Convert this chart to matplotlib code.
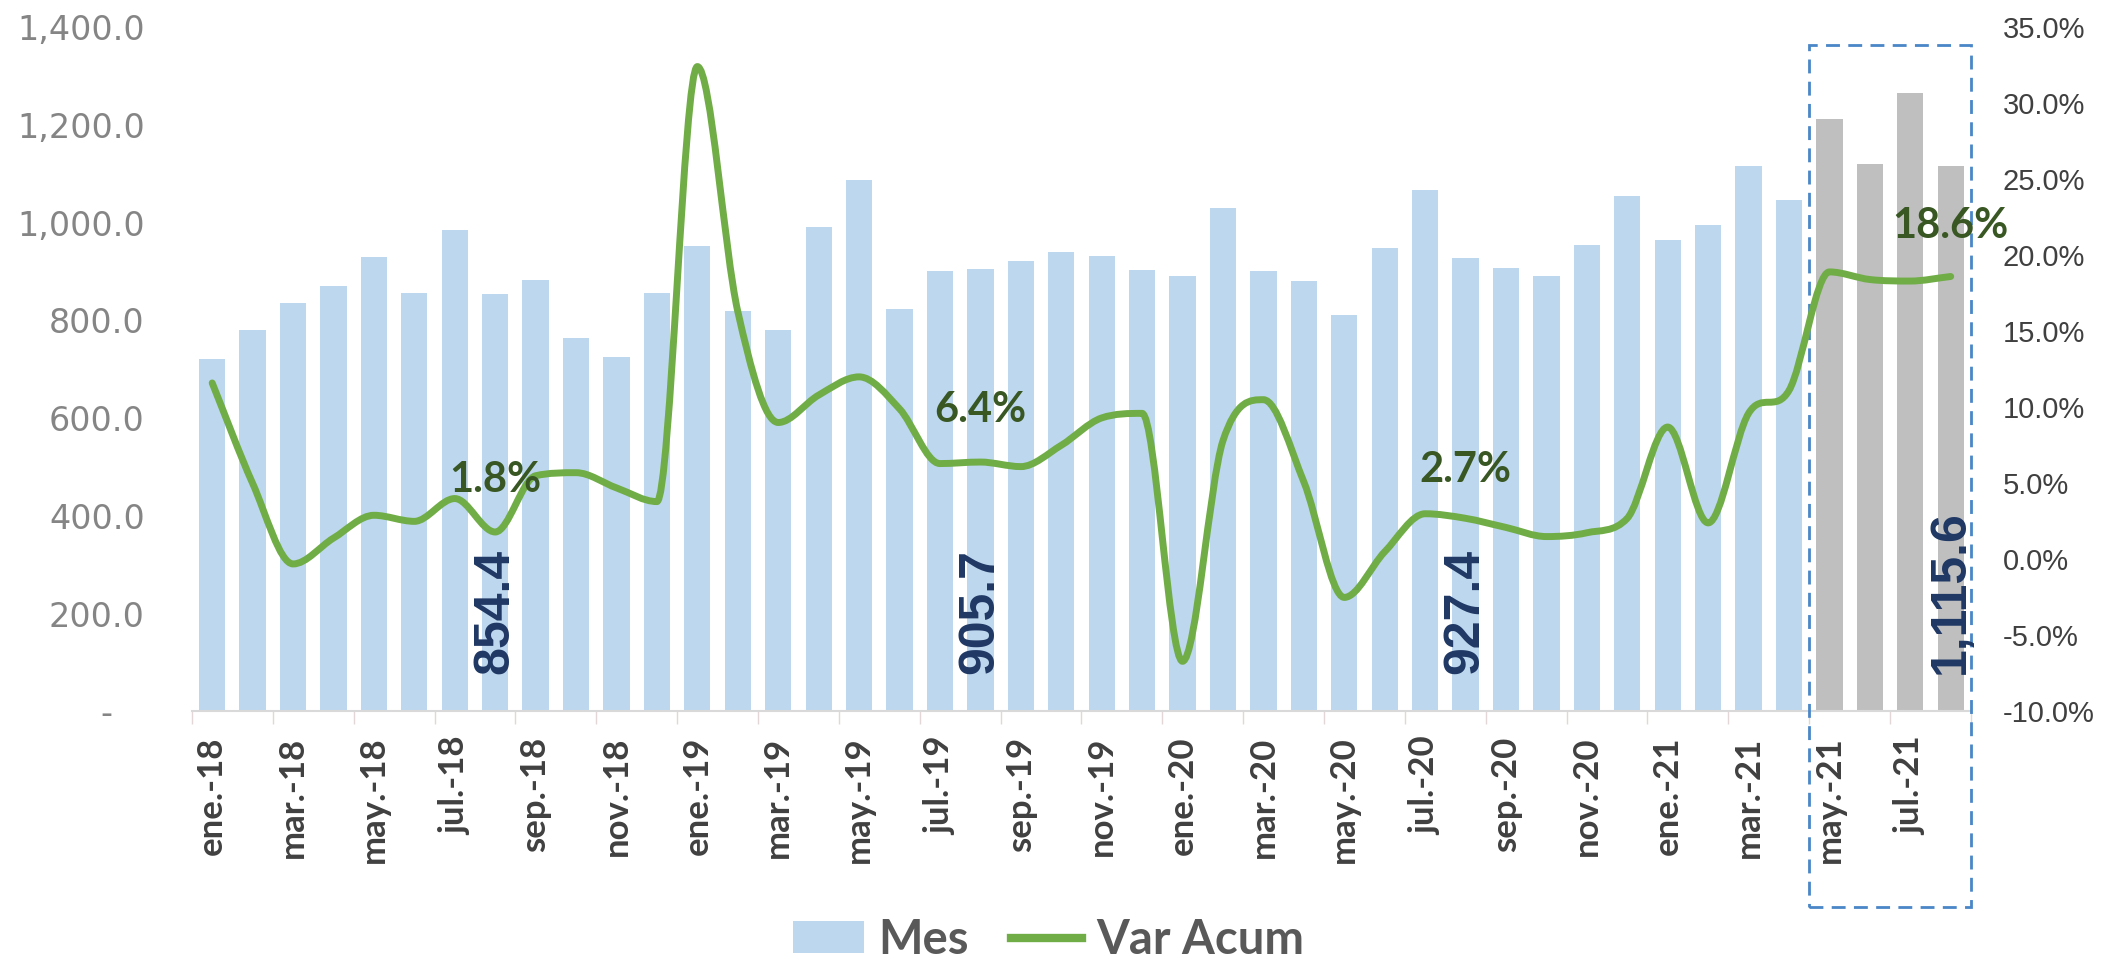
import matplotlib.pyplot as plt
from matplotlib.path import Path
from matplotlib.patches import PathPatch, Rectangle, Patch
from matplotlib.lines import Line2D
from matplotlib.ticker import FuncFormatter

meses = ['ene.', 'feb.', 'mar.', 'abr.', 'may.', 'jun.',
         'jul.', 'ago.', 'sep.', 'oct.', 'nov.', 'dic.']
anios = ['18', '19', '20', '21']
periodos = [f'{m}-{a}' for a in anios for m in meses][:44]

# Mes (bars, left axis)
mes = [721, 780, 836, 870, 930, 855, 985, 854.4, 883, 764, 726, 855,
       953, 819, 780, 992, 1088, 823, 902, 905.7, 921, 939, 932, 904,
       890, 1030, 900, 881, 810, 948, 1066, 927.4, 908, 890, 955, 1054,
       964, 995, 1116, 1046, 1211, 1120, 1266, 1115.6]

# Var Acum (line, right axis, %)
var_acum = [11.6, 5.0, -0.3, 1.4, 2.9, 2.5, 4.0, 1.8, 5.5, 5.7, 4.7, 3.8,
            32.4, 16.3, 9.0, 10.8, 12.0, 9.9, 6.3, 6.4, 6.1, 7.5, 9.3, 9.6,
            -6.7, 7.8, 10.5, 5.1, -2.5, 0.5, 3.0, 2.7, 2.1, 1.5, 1.75, 2.7,
            8.7, 2.4, 9.6, 11.1, 18.9, 18.4, 18.3, 18.6]

n_gris = 4  # last months highlighted in gray
etiquetas_mes = [7, 19, 31, 43]
etiquetas_var = [7, 19, 31, 43]

azul = '#bdd7ee'
gris = '#bfbfbf'
verde = '#70ad47'

fig = plt.figure(figsize=(21.05, 9.59), dpi=100)
ax = fig.add_axes([0.0912, 0.2581, 0.8451, 0.7137])
ax2 = ax.twinx()

x = list(range(len(mes)))
colores = [azul] * (len(mes) - n_gris) + [gris] * n_gris
ax.bar(x, mes, width=0.65, color=colores, zorder=2)

ax.set_xlim(-0.5, len(mes) - 0.5)
ax.set_ylim(0, 1400)
ax2.set_ylim(-10, 35)

# smoothed line through the points (no overshoot at local extremes)
y = var_acum
n = len(y)
d = [y[i + 1] - y[i] for i in range(n - 1)]
m = []
for i in range(n):
    if i == 0:
        t = d[0]
    elif i == n - 1:
        t = d[-1]
    elif d[i - 1] * d[i] <= 0:
        t = 0.0
    else:
        t = (d[i - 1] + d[i]) / 2
        lim = 3 * min(abs(d[i - 1]), abs(d[i]))
        t = max(-lim, min(lim, t))
    m.append(t)
verts = [(x[0], y[0])]
codes = [Path.MOVETO]
for i in range(n - 1):
    verts += [(x[i] + 1 / 3, y[i] + m[i] / 3),
              (x[i + 1] - 1 / 3, y[i + 1] - m[i + 1] / 3),
              (x[i + 1], y[i + 1])]
    codes += [Path.CURVE4] * 3
ax2.add_patch(PathPatch(Path(verts, codes), fill=False, edgecolor=verde,
                        lw=5, capstyle='round', joinstyle='round', zorder=3))

# spines and ticks
for s in ['top', 'left', 'right']:
    ax.spines[s].set_visible(False)
    ax2.spines[s].set_visible(False)
ax.spines['bottom'].set_color('#d9d9d9')
ax.spines['bottom'].set_linewidth(1.5)
ax2.spines['bottom'].set_visible(False)

ax.set_yticks(range(0, 1401, 200))
ax.yaxis.set_major_formatter(FuncFormatter(
    lambda v, p: '-   ' if v == 0 else f'{v:,.1f}'))
ax.tick_params(axis='y', length=0, pad=34, labelsize=24, labelcolor='#858585')
ax2.set_yticks(range(-10, 36, 5))
ax2.yaxis.set_major_formatter(FuncFormatter(lambda v, p: f'{v:.1f}%'))
ax2.tick_params(axis='y', length=0, pad=23, labelsize=21, labelcolor='#404040')

ax.set_xticks(x[::2])
ax.set_xticklabels(periodos[::2], rotation=90, fontsize=25,
                   fontweight='bold', color='#404040')
ax.set_xticks([i - 0.5 for i in range(0, len(mes) + 1, 2)], minor=True)
ax.tick_params(axis='x', which='major', length=0, pad=18)
ax.tick_params(axis='x', which='minor', length=9, color='#e3d6d6', width=1)

for lab in ax.get_yticklabels():
    lab.set_family('DejaVu Sans')
for lab in ax2.get_yticklabels():
    lab.set_family('Liberation Sans')
for lab in ax.get_xticklabels():
    lab.set_family('Lato')

# data labels
for i in etiquetas_mes:
    ax.text(i, 76, f'{mes[i]:,.1f}', rotation=90, ha='center', va='bottom',
            fontsize=36, fontweight='bold', color='#1f3864',
            family='Liberation Sans', zorder=5)

offs = {7: 3.4, 19: 3.4, 31: 3.2, 43: 3.3}
for i in etiquetas_var:
    ax2.text(i, var_acum[i] + offs[i], f'{var_acum[i]:.1f}%', ha='center',
             va='center', fontsize=30, fontweight='bold', color='#385723',
             family='Lato', zorder=6)

# dashed highlight box
rect = Rectangle((len(mes) - n_gris - 0.5, -400), n_gris, 1764, fill=False,
                 edgecolor='#4a86c8', lw=2, ls=(0, (5, 3)), clip_on=False,
                 zorder=4)
ax.add_patch(rect)

handles = [Patch(facecolor=azul, edgecolor='none'),
           Line2D([0], [0], color=verde, lw=6)]
fig.legend(handles, ['Mes', 'Var Acum'], loc='center',
           bbox_to_anchor=(0.498, 0.02), ncol=2, frameon=False,
           prop={'family': 'Lato', 'weight': 'bold', 'size': 34},
           labelcolor='#595959', handlelength=1.5, handleheight=0.65,
           columnspacing=0.9, handletextpad=0.3)

fig.savefig('out.png', dpi=100)
